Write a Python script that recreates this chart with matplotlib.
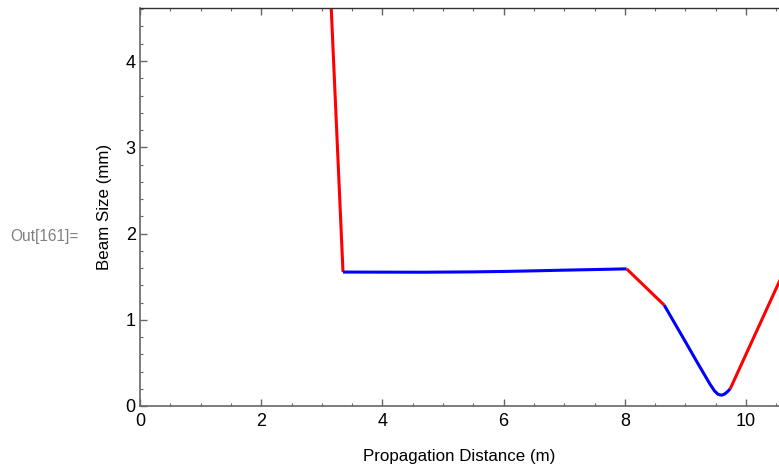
import matplotlib.pyplot as plt
from matplotlib.ticker import MultipleLocator

plt.rcParams['font.family'] = ['Liberation Sans', 'DejaVu Sans']

# beam size, piecewise (red = drift/lens, blue = medium)
red1_x = [3.15, 3.35]
red1_y = [4.70, 1.553]

blue1_x = [3.35, 4.0, 4.65, 5.5, 6.0, 6.5, 7.0, 7.5, 8.03]
blue1_y = [1.553, 1.552, 1.551, 1.555, 1.560, 1.567, 1.575, 1.582, 1.590]

red2_x = [8.03, 8.65]
red2_y = [1.590, 1.170]

blue2_x = [8.65, 9.0, 9.2, 9.4, 9.48, 9.54, 9.6, 9.65, 9.7, 9.74]
blue2_y = [1.170, 0.745, 0.50, 0.26, 0.175, 0.135, 0.125, 0.14, 0.17, 0.20]

red3_x = [9.74, 10.6]
red3_y = [0.20, 1.52]

fig = plt.figure(figsize=(7.79, 4.67), dpi=100)
ax = fig.add_axes([140 / 779, 61 / 467, 1 - 140 / 779, (406 - 8) / 467])

lw = 2.2
ax.plot(red1_x, red1_y, color='#ff0000', lw=lw, solid_capstyle='butt')
ax.plot(blue1_x, blue1_y, color='#0000ff', lw=lw, solid_capstyle='butt')
ax.plot(red2_x, red2_y, color='#ff0000', lw=lw, solid_capstyle='butt')
ax.plot(blue2_x, blue2_y, color='#0000ff', lw=lw, solid_capstyle='butt')
ax.plot(red3_x, red3_y, color='#ff0000', lw=lw, solid_capstyle='butt')

ax.set_xlim(0, (779 - 140) / 60.6)
ax.set_ylim(0, (406 - 8) / 86.25)

ax.xaxis.set_major_locator(MultipleLocator(2))
ax.xaxis.set_minor_locator(MultipleLocator(0.5))
ax.yaxis.set_major_locator(MultipleLocator(1))
ax.yaxis.set_minor_locator(MultipleLocator(0.2))

ax.spines['right'].set_visible(False)
for s in ['left', 'bottom']:
    ax.spines[s].set_color('#666666')
    ax.spines[s].set_linewidth(1.2)
ax.spines['top'].set_color('#333333')
ax.spines['top'].set_linewidth(1.0)

ax.tick_params(which='both', direction='in', top=True, right=False,
               color='#666666', labelsize=13, labelcolor='black')
ax.tick_params(which='major', length=5, width=1.0, pad=3)
ax.tick_params(axis='x', which='major', pad=5)
ax.tick_params(which='minor', length=2.5, width=0.8)

ax.set_xlabel('Propagation Distance (m)', fontsize=12.2, labelpad=14)
ax.set_ylabel('Beam Size (mm)', fontsize=12.2, labelpad=10)

fig.text(10 / 779, 1 - 237 / 467, 'Out[161]=', color='#808080', fontsize=11.2,
         va='center', ha='left')

fig.savefig('out.png', dpi=100)
